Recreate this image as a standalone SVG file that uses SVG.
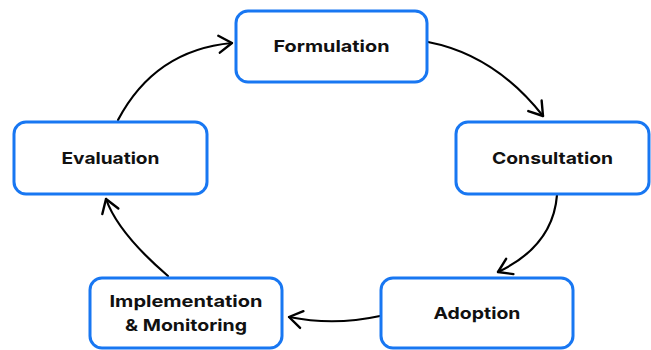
<svg xmlns="http://www.w3.org/2000/svg" width="651" height="350" viewBox="0 0 651 350">
  <style>
    .box { fill: #ffffff; stroke: #1877F2; stroke-width: 3; }
    .label { font-family: Inter, "DejaVu Sans", sans-serif; font-weight: 700; font-size: 16.5px; fill: #111111; text-anchor: middle; }
    .edge { fill: none; stroke: #000000; stroke-width: 2.2; stroke-linecap: round; marker-end: url(#arrow); }
  </style>
  <defs>
    <marker id="arrow" markerUnits="userSpaceOnUse" markerWidth="24" markerHeight="24" viewBox="-16 -12 20 24" refX="0" refY="0" orient="auto">
      <path d="M -13 -8.5 L 0 0 L -13 8.5" fill="none" stroke="#000000" stroke-width="2.4" stroke-linecap="round" stroke-linejoin="round"/>
    </marker>
  </defs>
  <rect width="651" height="350" fill="#ffffff"/>

  <g id="connectors">
    <path class="edge" d="M 428 42 Q 495 55 543 116"/>
    <path class="edge" d="M 557 195 Q 553 246 498 272"/>
    <path class="edge" d="M 380 316 Q 334 326 289 317"/>
    <path class="edge" d="M 168 276 Q 118 233 106 199"/>
    <path class="edge" d="M 118 120 Q 155 50 232 43"/>
  </g>

  <g id="formulation">
    <rect class="box" x="236" y="11" width="191" height="71" rx="12"/>
    <text class="label" x="331.5" y="52" textLength="116" lengthAdjust="spacingAndGlyphs">Formulation</text>
  </g>
  <g id="consultation">
    <rect class="box" x="456" y="122" width="193" height="72" rx="12"/>
    <text class="label" x="552.5" y="164" textLength="121" lengthAdjust="spacingAndGlyphs">Consultation</text>
  </g>
  <g id="adoption">
    <rect class="box" x="381" y="278" width="192" height="70" rx="12"/>
    <text class="label" x="477" y="319" textLength="87" lengthAdjust="spacingAndGlyphs">Adoption</text>
  </g>
  <g id="implementation">
    <rect class="box" x="90" y="278" width="192" height="70" rx="12"/>
    <text class="label" x="186" y="307" textLength="153" lengthAdjust="spacingAndGlyphs">Implementation</text>
    <text class="label" x="186" y="331" textLength="122" lengthAdjust="spacingAndGlyphs">&amp; Monitoring</text>
  </g>
  <g id="evaluation">
    <rect class="box" x="14" y="122" width="193" height="72" rx="12"/>
    <text class="label" x="110.5" y="164" textLength="98" lengthAdjust="spacingAndGlyphs">Evaluation</text>
  </g>
</svg>
